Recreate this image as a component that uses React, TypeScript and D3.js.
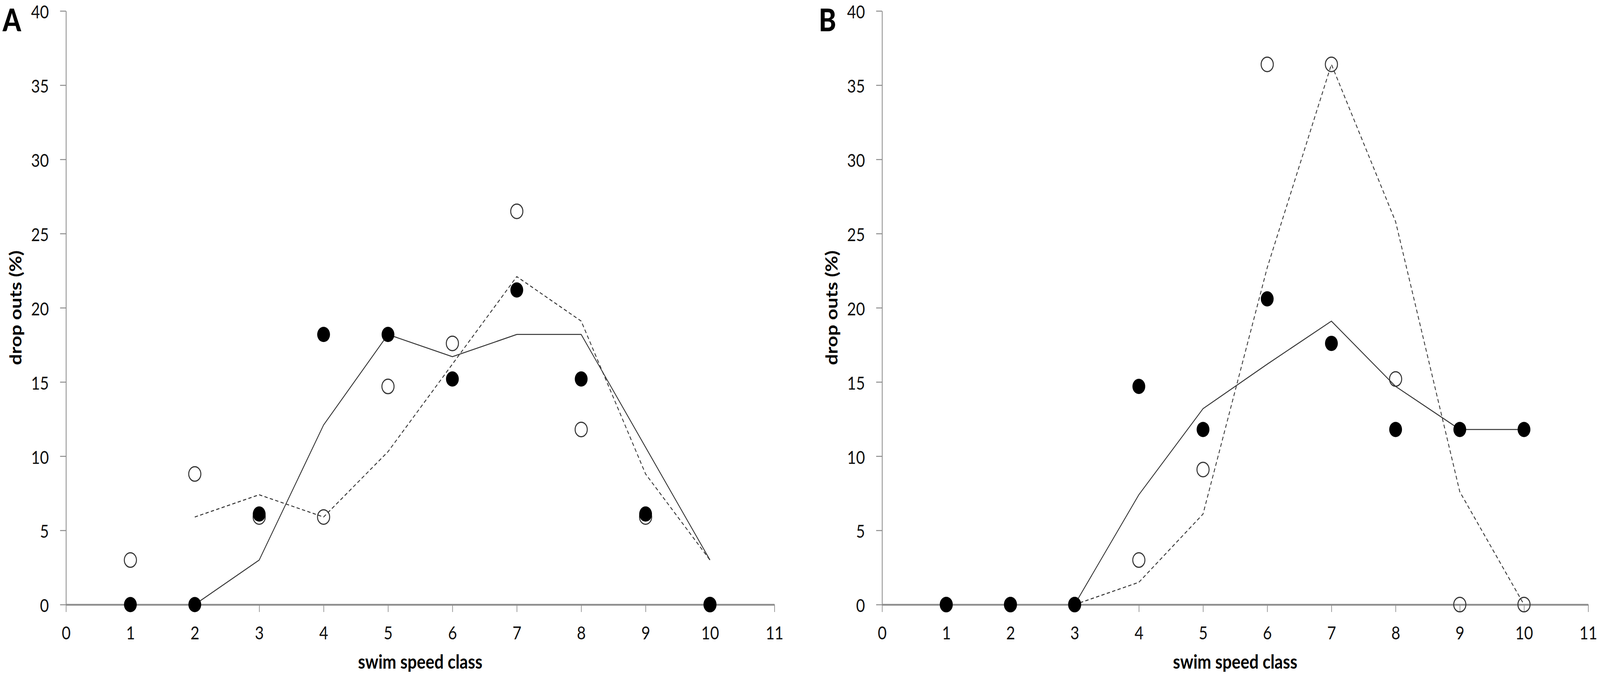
import { useEffect, useRef } from 'react';
import * as d3 from 'd3';

// swim speed classes shown as points
const classes = [1, 2, 3, 4, 5, 6, 7, 8, 9, 10];

// Panel A
const filledA = [0, 0, 6.1, 18.2, 18.2, 15.2, 21.2, 15.2, 6.1, 0];
const openA = [3, 8.8, 5.9, 5.9, 14.7, 17.6, 26.5, 11.8, 5.9, 0];
const trendClassesA = [2, 3, 4, 5, 6, 7, 8, 9, 10];
const trendFilledA = [0, 3, 12.1, 18.2, 16.7, 18.2, 18.2, 10.6, 3];
const trendOpenA = [5.9, 7.4, 5.9, 10.3, 16.2, 22.1, 19.1, 8.8, 3];

// Panel B
const filledB = [0, 0, 0, 14.7, 11.8, 20.6, 17.6, 11.8, 11.8, 11.8];
const openB = [0, 0, 0, 3, 9.1, 36.4, 36.4, 15.2, 0, 0];
const trendClassesB = [3, 4, 5, 6, 7, 8, 9, 10];
const trendFilledB = [0, 7.4, 13.2, 16.2, 19.1, 14.7, 11.8, 11.8];
const trendOpenB = [0, 1.5, 6.1, 22.7, 36.4, 25.8, 7.6, 0];

const xTickLabels = [0, 1, 2, 3, 4, 5, 6, 7, 8, 9, 10, 11];
const yTickLabels = [0, 5, 10, 15, 20, 25, 30, 35, 40];

const panels = [
  { letter: 'A', left: 201, right: 2359, filled: filledA, open: openA, trendX: trendClassesA, trendFilled: trendFilledA, trendOpen: trendOpenA },
  { letter: 'B', left: 2687, right: 4838, filled: filledB, open: openB, trendX: trendClassesB, trendFilled: trendFilledB, trendOpen: trendOpenB },
];

const W = 4874;
const H = 1740;
const FONT = 'Lato, "Open Sans", "DejaVu Sans", sans-serif';
const AXIS = '#8c8c8c';
const INK = '#333333';

export default function App() {
  const svgRef = useRef<SVGSVGElement>(null);

  useEffect(() => {
    document.body.style.margin = '0';
    document.body.style.overflow = 'hidden';
    document.documentElement.style.overflow = 'hidden';
    if (!svgRef.current) return;
    const svg = d3.select(svgRef.current);
    svg.selectAll('*').remove();

    const y = d3.scaleLinear().domain([0, 40]).range([1547, 28]);

    panels.forEach(p => {
      const x = d3.scaleLinear().domain([0, 11]).range([p.left, p.right]);
      const g = svg.append('g');

      // panel letter
      g.append('text')
        .attr('x', p.left - 193)
        .attr('y', 80)
        .attr('font-family', FONT)
        .attr('font-weight', 900)
        .attr('font-size', 80)
        .attr('fill', '#000')
        .text(p.letter);

      // y axis
      const ya = g.append('g')
        .attr('transform', `translate(${p.left},0)`)
        .call(d3.axisLeft(y).tickValues(yTickLabels).tickSize(18).tickSizeOuter(0).tickPadding(34));
      ya.select('.domain').attr('stroke', AXIS).attr('stroke-width', 2.5);
      ya.selectAll('.tick line').attr('stroke', AXIS).attr('stroke-width', 2.5);
      ya.selectAll('.tick text')
        .attr('dy', '0.4em')
        .attr('font-family', FONT)
        .attr('font-size', 47)
        .attr('fill', '#111');

      // x axis at zero
      const xa = g.append('g')
        .attr('transform', `translate(0,${y(0)})`)
        .call(d3.axisBottom(x).tickValues(xTickLabels).tickSize(19).tickSizeOuter(0).tickPadding(37));
      xa.select('.domain').attr('stroke', AXIS).attr('stroke-width', 4.5);
      xa.selectAll('.tick line').attr('stroke', AXIS).attr('stroke-width', 2);
      xa.selectAll('.tick text')
        .attr('font-family', FONT)
        .attr('font-size', 47)
        .attr('fill', '#111');

      // axis titles
      g.append('text')
        .attr('x', (p.left + p.right) / 2)
        .attr('y', 1711)
        .attr('text-anchor', 'middle')
        .attr('font-family', FONT)
        .attr('font-weight', 700)
        .attr('font-size', 50)
        .attr('fill', '#000')
        .text('swim speed class');

      g.append('text')
        .attr('transform', `translate(${p.left - 153},${(y(0) + y(40)) / 2}) rotate(-90)`)
        .attr('text-anchor', 'middle')
        .attr('dy', '0.35em')
        .attr('font-family', FONT)
        .attr('font-weight', 700)
        .attr('font-size', 50)
        .attr('fill', '#000')
        .text('drop outs (%)');

      // moving-average trend lines
      const line = d3.line<number>()
        .x((_, i) => x(p.trendX[i]))
        .y(d => y(d));

      g.append('path')
        .attr('d', line(p.trendFilled))
        .attr('fill', 'none')
        .attr('stroke', INK)
        .attr('stroke-width', 2.5);

      g.append('path')
        .attr('d', line(p.trendOpen))
        .attr('fill', 'none')
        .attr('stroke', INK)
        .attr('stroke-width', 2.5)
        .attr('stroke-dasharray', '10,7');

      // open markers
      g.selectAll('.open')
        .data(p.open)
        .join('circle')
        .attr('class', 'open')
        .attr('cx', (_, i) => x(classes[i]))
        .attr('cy', d => y(d))
        .attr('r', 18.5)
        .attr('fill', 'none')
        .attr('stroke', INK)
        .attr('stroke-width', 3);

      // filled markers
      g.selectAll('.filled')
        .data(p.filled)
        .join('circle')
        .attr('class', 'filled')
        .attr('cx', (_, i) => x(classes[i]))
        .attr('cy', d => y(d))
        .attr('r', 19.5)
        .attr('fill', '#000');
    });
  }, []);

  return (
    <svg
      ref={svgRef}
      viewBox={`0 0 ${W} ${H}`}
      preserveAspectRatio="none"
      style={{ display: 'block', width: '100vw', height: '100vh', background: '#fff' }}
    />
  );
}
